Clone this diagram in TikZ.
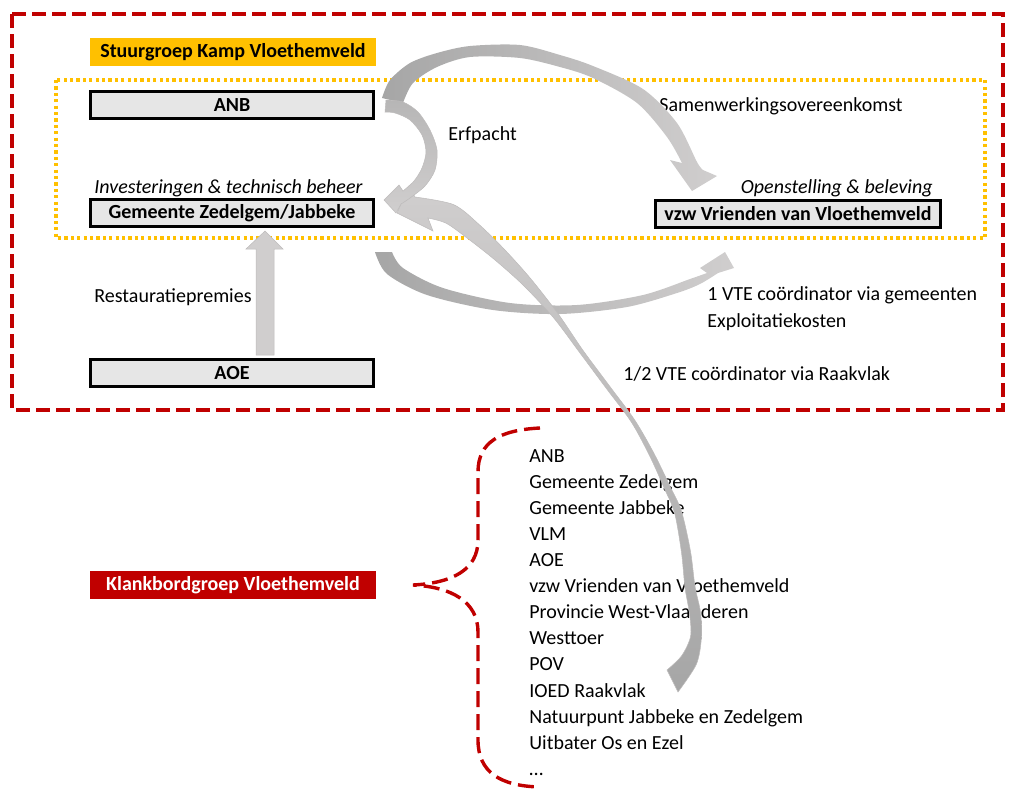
\documentclass[tikz,border=0pt]{standalone}
\usepackage{fontspec}
\setmainfont{Carlito}
\usetikzlibrary{positioning}
\definecolor{frred}{HTML}{C00000}
\definecolor{frorange}{HTML}{FFC000}
\definecolor{boxgray}{HTML}{E6E6E6}
\definecolor{arrlight}{HTML}{D0CECE}
\definecolor{arrdark}{HTML}{A6A6A6}
\definecolor{arrline}{HTML}{BDBBBB}
\begin{document}
\begin{tikzpicture}[x=0.5pt, y=-0.5pt, txt/.style={inner sep=0pt, font=\fontsize{10}{12}\selectfont}]
  \tikzset{bx/.style={draw=black, line width=1.6pt, fill=boxgray, minimum width=141.5pt, minimum height=13.4pt, inner sep=0pt, font=\fontsize{10}{12}\selectfont\bfseries}}
  \tikzset{lab/.style={minimum width=143pt, minimum height=14pt, inner sep=0pt, font=\fontsize{10}{12}\selectfont\bfseries}}
  \tikzset{itx/.style={txt, font=\fontsize{10}{12}\selectfont\itshape}}
  \tikzset{blk/.style={draw=arrline, line width=0.25pt}}
  \useasboundingbox (0,0) rectangle (1012,788);
  % frames
  \draw[frred, line width=1.7pt, dash pattern=on 7pt off 3pt] (12,14) rectangle (1003,410);
  \draw[frorange, line width=1.6pt, dash pattern=on 1.6pt off 1.6pt] (56,80) rectangle (985,238);
  % groups
  \node[lab, fill=frorange] (stuur) at (233,52) {Stuurgroep Kamp Vloethemveld};
  \node[lab, fill=frred, text=white] (klank) at (233,585) {Klankbordgroep Vloethemveld};
  % partners
  \node[bx] (anb) at (232,105) {ANB};
  \node[bx] (gem) at (232,213) {Gemeente Zedelgem/Jabbeke};
  \node[bx, minimum width=142.4pt] (vzw) at (798,214) {vzw Vrienden van Vloethemveld};
  \node[bx] (aoe) at (232,373) {AOE};
  % roles and flows
  \node[itx, anchor=base west] (inv) at (94,193) {Investeringen \& technisch beheer};
  \node[itx, anchor=base east] (open) at (933,193) {Openstelling \& beleving};
  \node[txt, anchor=base west] (erf) at (448,140) {Erfpacht};
  \node[txt, anchor=base west] (samen) at (659,111) {Samenwerkingsovereenkomst};
  \node[txt, anchor=base west] (rest) at (94,302) {Restauratiepremies};
  \node[txt, anchor=base west] (vte1) at (707,300) {1 VTE coördinator via gemeenten};
  \node[txt, anchor=base west] (expl) at (707,327) {Exploitatiekosten};
  \node[txt, anchor=base west] (vte2) at (623,380) {1/2 VTE coördinator via Raakvlak};
  % members
  \foreach \lid [count=\i] in {ANB, Gemeente Zedelgem, Gemeente Jabbeke, VLM, AOE,
      vzw Vrienden van Vloethemveld, Provincie West-Vlaanderen, Westtoer, POV,
      IOED Raakvlak, Natuurpunt Jabbeke en Zedelgem, Uitbater Os en Ezel, …}
    \node[txt, anchor=base west] (mem\i) at (529,436+26.1*\i) {\lid};
  % brace
  \coordinate (tip) at (413,585);
  \draw[frred, line width=1.7pt, dash pattern=on 8pt off 3.5pt]
    (540,428) .. controls (500,430) and (478,442) .. (478,472) -- (478,540)
    .. controls (478,570) and (452,583) .. (tip)
    .. controls (452,587) and (478,602) .. (478,632) -- (478,740)
    .. controls (478,772) and (500,786) .. (540,787);
  % block arrows
  \shade[left color=arrdark, right color=arrlight]
    plot[smooth] coordinates {(382,98) (390,80) (410,63) (437,53) (470,46) (520,45) (560,55) (593,66) (643,89) (677,123) (697,162) (703,170)}
    -- (717,176) -- (692,191) -- (670,160)
    -- plot[smooth] coordinates {(682,163) (667,137) (637,103) (593,78) (560,67) (520,58) (470,57) (437,67) (413,83) (403,103)}
    -- cycle;
  \shade[left color=arrdark, right color=arrlight]
    plot[smooth] coordinates {(392,252) (403,268) (443,288) (510,303) (577,305) (643,295) (690,279) (707,273)}
    -- (700,268) -- (725,252) -- (734,268)
    -- plot[smooth] coordinates {(718,273) (700,284) (677,293) (627,307) (560,314) (493,310) (427,295) (387,274) (375,252)}
    -- cycle;
  \filldraw[blk, fill=arrlight] (256,355) -- (256,249) -- (246,249) -- (265,231) -- (283,249) -- (274,249) -- (274,355) -- cycle;
  \shadedraw[blk, top color=arrlight, middle color=arrlight, bottom color=arrdark]
    plot[smooth] coordinates {(415,197) (453.7,204.7) (479.5,224.9) (505,250) (530.8,278.8) (558.4,314.2) (582.6,349.8) (608.6,384.8) (634.7,420) (654.2,453.8) (669.7,485.7) (681.4,511) (690.5,551.3) (695,586.3) (700.5,612.2) (701.4,637.7) (696.4,664.2) (678,692)}
    -- plot[smooth] coordinates {(667,670) (681.6,655.8) (690.6,636.3) (689.5,613.8) (685,587.7) (681.5,552.7) (674.6,513) (664.3,488.3) (649.8,456.2) (631.3,422) (605.4,387.2) (579.4,352.2) (553.6,317.8) (523.2,285.2) (495,260) (468.5,239.1) (446.3,223.3) (428,218)}
    -- (433,231) -- (397,213) -- (409,186) -- cycle;
  \shadedraw[blk, top color=arrdark!60!arrlight, bottom color=arrlight]
    plot[smooth] coordinates {(386,100) (403,102) (418,112) (430,130) (437,150) (435,170) (425,186) (410,198) (401,204)}
    -- (396,213) -- (384,200) -- (399,185)
    -- plot[smooth] coordinates {(403,191) (414,181) (422,168) (426,152) (422,135) (410,120) (395,113) (385,112)}
    -- cycle;
\end{tikzpicture}
\end{document}
